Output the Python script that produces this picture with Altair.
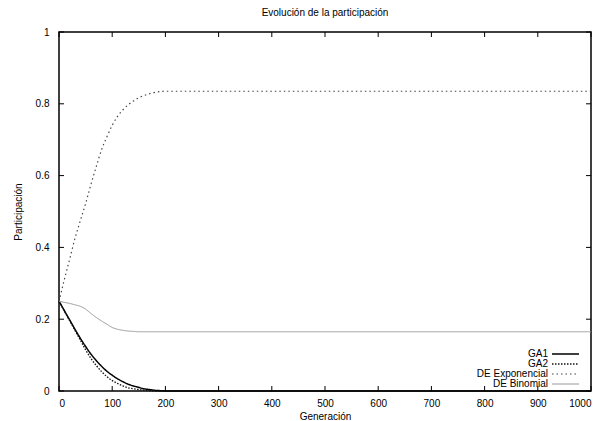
import altair as alt
import pandas as pd

# ---- data ----
generaciones = [0, 10, 20, 30, 40, 50, 60, 70, 80, 90, 100, 110, 120, 130, 140, 150,
                160, 170, 180, 190, 200, 300, 400, 500, 600, 700, 800, 900, 1000]

ga1 = [0.25, 0.224, 0.198, 0.172, 0.147, 0.124, 0.103, 0.085, 0.069, 0.055, 0.044,
       0.034, 0.026, 0.019, 0.014, 0.010, 0.006, 0.004, 0.002, 0.001, 0.0,
       0.0, 0.0, 0.0, 0.0, 0.0, 0.0, 0.0, 0.0]

ga2 = [0.25, 0.223, 0.196, 0.169, 0.142, 0.115, 0.091, 0.071, 0.054, 0.040, 0.029,
       0.021, 0.014, 0.009, 0.006, 0.004, 0.002, 0.001, 0.0, 0.0, 0.0,
       0.0, 0.0, 0.0, 0.0, 0.0, 0.0, 0.0, 0.0]

de_exp = [0.25, 0.31, 0.367, 0.425, 0.474, 0.522, 0.575, 0.625, 0.672, 0.708, 0.74,
          0.765, 0.783, 0.797, 0.808, 0.817, 0.823, 0.828, 0.832, 0.834, 0.835,
          0.835, 0.835, 0.835, 0.835, 0.835, 0.835, 0.835, 0.835]

de_bin = [0.25, 0.247, 0.244, 0.240, 0.236, 0.228, 0.216, 0.205, 0.195, 0.186, 0.177,
          0.172, 0.169, 0.167, 0.166, 0.165, 0.165, 0.165, 0.165, 0.165, 0.165,
          0.165, 0.165, 0.165, 0.165, 0.165, 0.165, 0.165, 0.165]

series = ["GA1", "GA2", "DE Exponencial", "DE Binomial"]
x_ticks = [0, 100, 200, 300, 400, 500, 600, 700, 800, 900, 1000]
y_ticks = [0, 0.2, 0.4, 0.6, 0.8, 1]

rows = []
for name, vals in zip(series, [ga1, ga2, de_exp, de_bin]):
    for g, v in zip(generaciones, vals):
        rows.append({"gen": g, "val": v, "serie": name, "orden": series.index(name)})
df = pd.DataFrame(rows)
legend_df = pd.DataFrame({"serie": series})

W, H = 532, 359
FONT = "Liberation Sans"

xscale = alt.Scale(domain=[0, 1000], nice=False, zero=False)
yscale = alt.Scale(domain=[0, 1], nice=False)
color_enc = alt.Color("serie:N", legend=None,
                      scale=alt.Scale(domain=series, range=["#000000", "#111111", "#444444", "#9a9a9a"]))
dash_enc = alt.StrokeDash("serie:N", legend=None,
                          scale=alt.Scale(domain=series, range=[[1, 0], [1.5, 1.5], [1.5, 3], [1, 0]]))
width_enc = alt.StrokeWidth("serie:N", legend=None,
                            scale=alt.Scale(domain=series, range=[1.5, 1, 1, 1.2]))

lines = alt.Chart(df).mark_line(interpolate="monotone").encode(
    x=alt.X("gen:Q", scale=xscale, title="Generación",
            axis=alt.Axis(values=x_ticks, ticks=False, domain=False, grid=False,
                          labelPadding=7, titleY=25, titleBaseline="middle", format="d")),
    y=alt.Y("val:Q", scale=yscale, title="Participación",
            axis=alt.Axis(values=y_ticks, ticks=False, domain=False, grid=False,
                          labelPadding=10, titlePadding=12, format="~g")),
    color=color_enc, strokeDash=dash_enc, strokeWidth=width_enc,
    order="orden:Q",
)

xt = pd.DataFrame({"t": x_ticks})
yt = pd.DataFrame({"t": y_ticks})

tick_bottom = alt.Chart(xt).mark_rule(color="black", strokeWidth=1).encode(
    x=alt.X("t:Q", scale=xscale), y=alt.value(H), y2=alt.value(H - 5))
tick_top = alt.Chart(xt).mark_rule(color="black", strokeWidth=1).encode(
    x=alt.X("t:Q", scale=xscale), y=alt.value(0), y2=alt.value(5))
tick_left = alt.Chart(yt).mark_rule(color="black", strokeWidth=1).encode(
    y=alt.Y("t:Q", scale=yscale, axis=None), x=alt.value(0), x2=alt.value(5))
tick_right = alt.Chart(yt).mark_rule(color="black", strokeWidth=1).encode(
    y=alt.Y("t:Q", scale=yscale, axis=None), x=alt.value(W), x2=alt.value(W - 5))

# legend (gnuplot style: label left, sample right, bottom-right corner)
leg_y = alt.Y("serie:N", axis=None,
              scale=alt.Scale(type="point", domain=series, range=[322, 352], padding=0))
leg_text = alt.Chart(legend_df).mark_text(align="right", baseline="middle", font=FONT,
                                          fontSize=10, color="black").encode(
    text="serie:N", y=leg_y, x=alt.value(489))
leg_line = alt.Chart(legend_df).mark_rule().encode(
    y=leg_y, x=alt.value(493), x2=alt.value(520),
    color=color_enc, strokeDash=dash_enc, strokeWidth=width_enc)

chart = alt.layer(lines, tick_bottom, tick_top, tick_left, tick_right,
                  leg_text, leg_line).resolve_scale(y="independent").properties(
    width=W, height=H,
    title=alt.TitleParams("Evolución de la participación", fontSize=10, fontWeight="normal",
                          font=FONT, offset=9, color="black"),
    autosize=alt.AutoSizeParams(type="none"),
    padding={"left": 51, "top": 24, "right": 10, "bottom": 29},
).configure_view(
    stroke="black", strokeWidth=1.5
).configure_axis(
    labelFont=FONT, titleFont=FONT, labelFontSize=10, titleFontSize=10,
    titleFontWeight="normal", labelColor="black", titleColor="black",
)

chart.save("out.html", embed_options={"renderer": "svg", "actions": False})
